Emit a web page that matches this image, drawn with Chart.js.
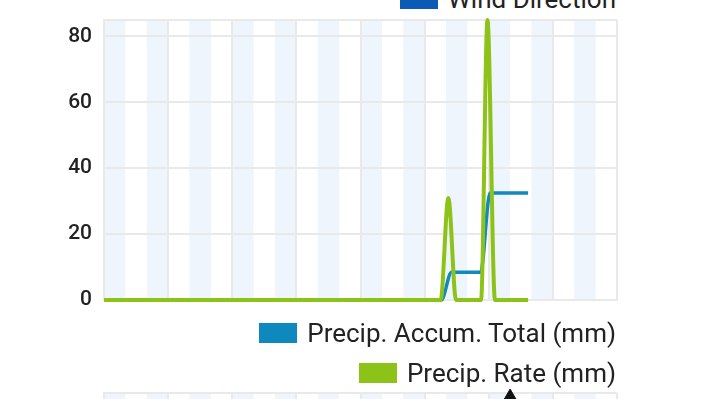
<!DOCTYPE html>
<html>
<head>
<meta charset="utf-8">
<script src="https://cdn.jsdelivr.net/npm/chart.js@4/dist/chart.umd.min.js"></script>
<style>
  html, body { margin: 0; padding: 0; background: #fff; overflow: hidden; }
  body { width: 720px; height: 399px; position: relative; font-family: Roboto, sans-serif; }
  .box { position: absolute; left: 0; width: 720px; }
  .box canvas { display: block; }
  .legend-row {
    position: absolute; right: 104px; height: 20px;
    display: flex; align-items: center; gap: 10px;
    font: 26px Roboto, sans-serif; line-height: 20px; color: #222; white-space: nowrap;
  }
  .legend-row span.sw { display: inline-block; width: 38px; height: 20px; }
</style>
</head>
<body>
<div class="legend-row" style="top:-11px"><span class="sw" style="background:#0a5bb5"></span><span>Wind Direction</span></div>

<div class="box" style="top:0;height:392px"><canvas id="precipChart" width="720" height="392"></canvas></div>

<div class="legend-row" style="top:323px"><span class="sw" style="background:#0f88be"></span><span>Precip. Accum. Total (mm)</span></div>
<div class="legend-row" style="top:363px"><span class="sw" style="background:#8dc318"></span><span>Precip. Rate (mm)</span></div>

<div class="box" style="top:385px;height:200px"><canvas id="windChart" width="720" height="200"></canvas></div>

<script>
// hours of the day (0 - 24)
const rateTimes = [0, 15.75, 16.11, 16.47, 17.64, 17.94, 18.29, 19.84];
const rateValues = [0, 0, 31, 0, 0, 85, 0, 0];

const accumTimes = [0, 15.78, 16.26, 17.62, 18.06, 19.84];
const accumValues = [0, 0, 8.4, 8.4, 32.5, 32.5];

const windTimes = [19.0];
const windValues = [354];

const yTicks = [0, 20, 40, 60, 80];

const gridColor = '#e9e9e9';

// light blue shading for every other hour
const hourBands = {
  id: 'hourBands',
  beforeDraw(chart) {
    const { ctx, chartArea, scales } = chart;
    ctx.save();
    ctx.fillStyle = '#eef5fc';
    for (let h = 0; h < 24; h += 2) {
      const x1 = scales.x.getPixelForValue(h);
      const x2 = scales.x.getPixelForValue(h + 1);
      ctx.fillRect(x1, chartArea.top, x2 - x1, chartArea.bottom - chartArea.top);
    }
    ctx.restore();
  }
};

function xScale() {
  return {
    type: 'linear', min: 0, max: 24,
    ticks: { display: false, stepSize: 3 },
    grid: { color: gridColor, lineWidth: 2, drawTicks: false },
    border: { display: true, color: gridColor, width: 2 }
  };
}

let precipCanvas = document.getElementById('precipChart');
new Chart(precipCanvas, {
  type: 'line',
  data: {
    datasets: [{
      label: 'Precip. Rate (mm)',
      data: rateTimes.map((t, i) => ({ x: t, y: rateValues[i] })),
      borderColor: '#8dc318',
      borderWidth: 4,
      pointRadius: 0,
      cubicInterpolationMode: 'monotone',
      clip: 5,
      order: 0
    }, {
      label: 'Precip. Accum. Total (mm)',
      data: accumTimes.map((t, i) => ({ x: t, y: accumValues[i] })),
      borderColor: '#1289bc',
      borderWidth: 3.5,
      pointRadius: 0,
      cubicInterpolationMode: 'monotone',
      clip: 5,
      order: 1
    }]
  },
  options: {
    responsive: false,
    animation: false,
    layout: { padding: { left: 0, right: 103, top: 20, bottom: 92 } },
    plugins: { legend: { display: false }, tooltip: { enabled: false } },
    scales: {
      x: xScale(),
      y: {
        min: 0, max: 85,
        afterBuildTicks(scale) {
          scale.ticks = yTicks.map(v => ({ value: v })).concat([{ value: 85 }]);
        },
        afterFit(scale) { scale.width = 104; },
        ticks: {
          padding: 12,
          color: '#222',
          font: { family: 'Roboto', size: 21, weight: 500, lineHeight: 0.6 },
          callback: v => (yTicks.includes(v) ? String(v) : '')
        },
        grid: { color: gridColor, lineWidth: 2, drawTicks: false },
        border: { display: true, color: gridColor, width: 2 }
      }
    }
  },
  plugins: [hourBands]
});

// top of the next chart (wind direction)
let windCanvas = document.getElementById('windChart');
new Chart(windCanvas, {
  type: 'line',
  data: {
    datasets: [{
      label: 'Wind Direction',
      data: windTimes.map((t, i) => ({ x: t, y: windValues[i] })),
      showLine: false,
      pointStyle: 'triangle',
      pointRadius: 7,
      backgroundColor: '#111',
      borderColor: '#111',
      clip: false
    }]
  },
  options: {
    responsive: false,
    animation: false,
    layout: { padding: { left: 0, right: 103, top: 1, bottom: 10 } },
    plugins: { legend: { display: false }, tooltip: { enabled: false } },
    scales: {
      x: xScale(),
      y: {
        min: 0, max: 360,
        afterFit(scale) { scale.width = 104; },
        ticks: { display: false, stepSize: 90 },
        grid: { color: gridColor, lineWidth: 2, drawTicks: false },
        border: { display: true, color: gridColor, width: 2 }
      }
    }
  },
  plugins: [hourBands]
});
</script>
</body>
</html>
